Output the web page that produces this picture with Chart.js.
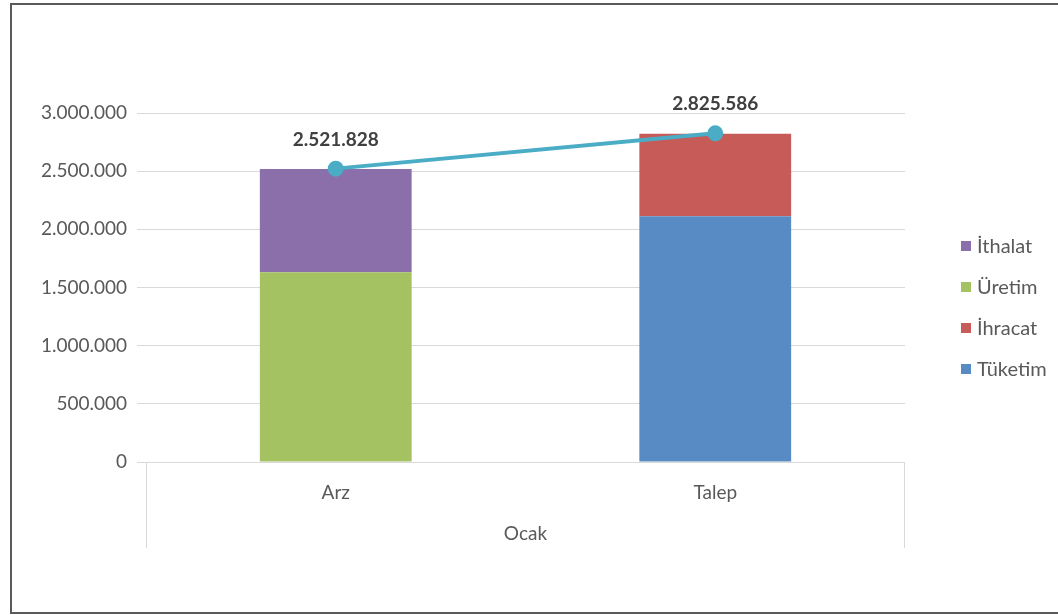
<!DOCTYPE html>
<html>
<head>
<meta charset="utf-8">
<script src="https://cdn.jsdelivr.net/npm/chart.js@4/dist/chart.umd.min.js"></script>
<style>
  body { margin: 0; background: #fff; }
  #wrap { width: 1058px; height: 615px; }
</style>
</head>
<body>
<div id="wrap"><canvas id="myChart" width="1058" height="615"></canvas></div>
<script>
const categories = ['Arz', 'Talep'];
const groupLabel = 'Ocak';
const tuketim = [null, 2112000];
const ihracat = [null, 710586];
const uretim = [1632000, null];
const ithalat = [885828, null];
const totals = [2521828, 2825586];
const yTicks = [0, 500000, 1000000, 1500000, 2000000, 2500000, 3000000];

const fmt = v => String(v).replace(/\B(?=(\d{3})+(?!\d))/g, '.');
const FONT = 'Lato';

// legend entries in the order the reference shows them
const legendItems = [
  { label: 'İthalat', color: '#8B6FAB' },
  { label: 'Üretim', color: '#A5C262' },
  { label: 'İhracat', color: '#C75B58' },
  { label: 'Tüketim', color: '#588BC3' },
];

const frame = {
  id: 'frame',
  beforeDraw(chart) {
    const c = chart.ctx;
    c.save();
    c.fillStyle = '#fff';
    c.fillRect(0, 0, chart.width, chart.height);
    c.restore();
  },
  afterDraw(chart) {
    const c = chart.ctx;
    const a = chart.chartArea;
    c.save();
    // outer frame
    c.strokeStyle = '#5a5a5a';
    c.lineWidth = 2;
    c.beginPath();
    c.moveTo(1058, 4); c.lineTo(11, 4); c.lineTo(11, 613); c.lineTo(1058, 613);
    c.stroke();
    // group separators below the axis
    c.strokeStyle = '#d9d9d9';
    c.lineWidth = 1;
    c.beginPath();
    c.moveTo(a.left + 0.5, a.bottom); c.lineTo(a.left + 0.5, a.bottom + 86);
    c.moveTo(a.right - 0.5, a.bottom); c.lineTo(a.right - 0.5, a.bottom + 86);
    c.stroke();
    // total labels above line points
    const meta = chart.getDatasetMeta(4);
    c.fillStyle = '#404040';
    c.font = 'bold 19px ' + FONT;
    c.textAlign = 'center';
    c.textBaseline = 'middle';
    meta.data.forEach((pt, i) => c.fillText(fmt(totals[i]), pt.x, pt.y - 29));
    // legend
    c.font = '20px ' + FONT;
    c.textAlign = 'left';
    legendItems.forEach((it, i) => {
      const y = 246 + i * 41;
      c.fillStyle = it.color;
      c.fillRect(961, y - 5, 10, 10);
      c.fillStyle = '#595959';
      c.fillText(it.label, 977, y + 1);
    });
    c.restore();
  }
};

const ctx = document.getElementById('myChart').getContext('2d');
new Chart(ctx, {
  type: 'bar',
  data: {
    labels: categories,
    datasets: [
      { label: 'Tüketim', data: tuketim, backgroundColor: '#588BC3', stack: 's' },
      { label: 'İhracat', data: ihracat, backgroundColor: '#C75B58', stack: 's' },
      { label: 'Üretim', data: uretim, backgroundColor: '#A5C262', stack: 's' },
      { label: 'İthalat', data: ithalat, backgroundColor: '#8B6FAB', stack: 's' },
      {
        type: 'line', label: 'Toplam', data: totals, stack: 'line', order: -1,
        borderColor: '#4BACC6', backgroundColor: '#4BACC6',
        borderWidth: 4, pointRadius: 6, pointHoverRadius: 6, fill: false
      }
    ]
  },
  options: {
    responsive: false,
    animation: false,
    events: [],
    layout: { padding: { top: 113, right: 153, left: 0, bottom: 0 } },
    datasets: { bar: { categoryPercentage: 1, barPercentage: 0.4 } },
    plugins: { legend: { display: false }, tooltip: { enabled: false } },
    scales: {
      x: {
        stacked: true,
        grid: { display: false },
        border: { display: false },
        ticks: { color: '#595959', font: { family: FONT, size: 19 }, padding: 11 },
        title: {
          display: true, text: groupLabel, color: '#595959',
          font: { family: FONT, size: 19 }, padding: { top: 4, bottom: 70 }
        },
        afterFit(s) { s.height = 153; }
      },
      y: {
        stacked: true,
        min: 0, max: 3000000,
        afterBuildTicks(s) { s.ticks = yTicks.map(v => ({ value: v })); },
        grid: { color: '#d9d9d9', tickLength: 9, tickColor: '#d9d9d9' },
        border: { display: false },
        ticks: { color: '#595959', font: { family: FONT, size: 19 }, padding: 10, callback: v => fmt(v) },
        afterFit(s) { s.width = 146; }
      }
    }
  },
  plugins: [frame]
});
</script>
</body>
</html>
